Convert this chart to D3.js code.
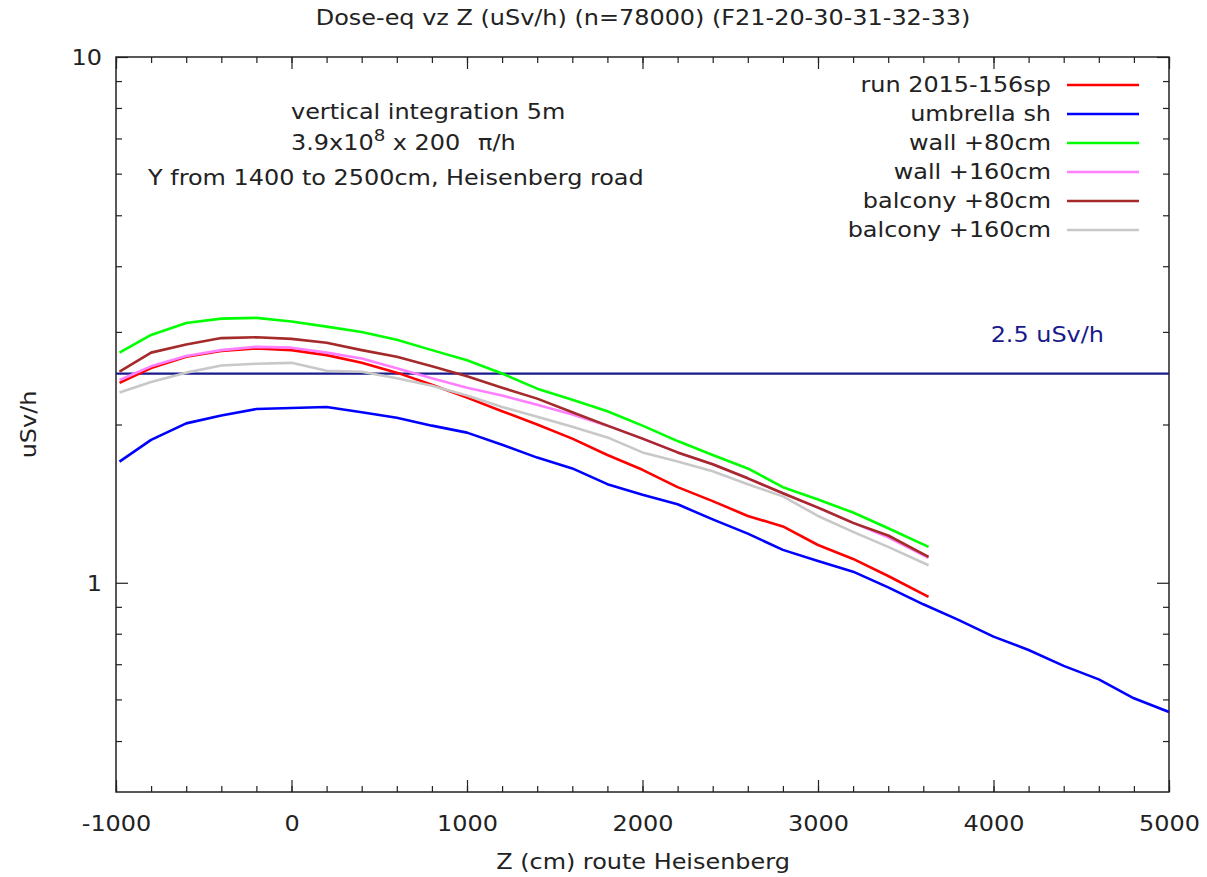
<!DOCTYPE html>
<html>
<head>
<meta charset="utf-8">
<script src="https://cdn.jsdelivr.net/npm/d3@7"></script>
<style>
  body { margin: 0; background: #fff; }
  text { font-family: "DejaVu Sans", sans-serif; fill: #222; font-size: 21px; }
</style>
</head>
<body>
<script>
// z positions (cm) of the sampled points
var zShort = [-980,-800,-600,-400,-200,0,200,400,600,800,1000,1200,1400,1600,1800,2000,2200,2400,2600,2800,3000,3200,3400,3630];
var zLong = [-980,-800,-600,-400,-200,0,200,400,600,800,1000,1200,1400,1600,1800,2000,2200,2400,2600,2800,3000,3200,3400,3600,3800,4000,4200,4400,4600,4800,5000];

var runVals  = [2.40,2.56,2.69,2.76,2.79,2.77,2.71,2.62,2.51,2.38,2.25,2.12,2.00,1.88,1.75,1.64,1.52,1.43,1.34,1.28,1.18,1.11,1.03,0.94];
var umbVals  = [1.70,1.87,2.01,2.08,2.14,2.15,2.16,2.11,2.06,1.99,1.93,1.83,1.73,1.65,1.54,1.47,1.41,1.32,1.24,1.155,1.10,1.05,0.98,0.91,0.85,0.79,0.745,0.695,0.655,0.603,0.568];
var wall80   = [2.74,2.96,3.12,3.18,3.19,3.14,3.07,3.00,2.90,2.77,2.65,2.50,2.34,2.23,2.12,1.99,1.86,1.75,1.65,1.52,1.44,1.36,1.27,1.17];
var wall160  = [2.43,2.58,2.70,2.77,2.81,2.80,2.74,2.67,2.56,2.45,2.35,2.27,2.18,2.09,1.99,1.88,1.77,1.68,1.58,1.48,1.39,1.30,1.22,1.115];
var balc80   = [2.52,2.74,2.84,2.92,2.93,2.91,2.86,2.77,2.69,2.58,2.47,2.35,2.24,2.11,1.99,1.88,1.77,1.68,1.58,1.48,1.39,1.30,1.23,1.12];
var balc160  = [2.30,2.41,2.51,2.59,2.61,2.62,2.53,2.52,2.45,2.37,2.27,2.16,2.07,1.98,1.89,1.77,1.70,1.63,1.54,1.46,1.34,1.25,1.17,1.08];

var seriesNames = ["run 2015-156sp","umbrella sh","wall +80cm","wall +160cm","balcony +80cm","balcony +160cm"];
var seriesColors = ["#ff0000","#0000ff","#00ff00","#ff80ff","#a52a2a","#c8c8c8"];
var series = [
  {z: zShort, v: runVals},
  {z: zLong,  v: umbVals},
  {z: zShort, v: wall80},
  {z: zShort, v: wall160},
  {z: zShort, v: balc80},
  {z: zShort, v: balc160}
];

var limit = 2.5;
var xMajor = [-1000,0,1000,2000,3000,4000,5000];
var xMinor = d3.range(-1000, 5001, 200);
var yMajor = [1,10];
var yMinor = [0.5,0.6,0.7,0.8,0.9,2,3,4,5,6,7,8,9];

var W = 1207, H = 877;
var pL = 116, pR = 1169, pT = 57, pB = 792;
var SX = 1.14;   // the reference font is a bit wider than DejaVu

var svg = d3.select("body").append("svg")
    .attr("width", W)
    .attr("height", H)

var x = d3.scaleLinear().domain([-1000, 5000]).range([pL, pR]);
var y = d3.scaleLog().domain([0.4, 10]).range([pB, pT]);

function label(px, py, anchor, str) {
  return svg.append("text")
    .attr("transform", "translate(" + px + "," + py + ") scale(" + SX + ",1)")
    .attr("text-anchor", anchor)
    .text(str);
}

// axes: ticks point inward, on all four sides
function tickAxis(axis, vals, size) {
  return axis.tickValues(vals).tickSize(size).tickFormat("");
}
var gAx = svg.append("g").attr("class", "axes");

var xa = gAx.append("g").attr("transform", "translate(0," + pB + ")")
  .call(d3.axisBottom(x).tickValues(xMajor).tickSize(-12).tickFormat(d3.format("d")));
xa.selectAll(".tick text").attr("y", 39).attr("dy", 0)
  .text(function(d){ return String(d) })
  .attr("transform", "scale(" + SX + ",1)");
gAx.append("g").attr("transform", "translate(0," + pB + ")")
  .call(tickAxis(d3.axisBottom(x), xMinor, -6));
gAx.append("g").attr("transform", "translate(0," + pT + ")")
  .call(tickAxis(d3.axisTop(x), xMajor, -12));
gAx.append("g").attr("transform", "translate(0," + pT + ")")
  .call(tickAxis(d3.axisTop(x), xMinor, -6));

var ya = gAx.append("g").attr("transform", "translate(" + pL + ",0)")
  .call(d3.axisLeft(y).tickValues(yMajor).tickSize(-12).tickFormat(d3.format("d")));
ya.selectAll(".tick text").attr("x", -14 / SX).attr("dy", "0.36em")
  .attr("transform", "scale(" + SX + ",1)");
gAx.append("g").attr("transform", "translate(" + pL + ",0)")
  .call(tickAxis(d3.axisLeft(y), yMinor, -6));
gAx.append("g").attr("transform", "translate(" + pR + ",0)")
  .call(tickAxis(d3.axisRight(y), yMajor, -12));
gAx.append("g").attr("transform", "translate(" + pR + ",0)")
  .call(tickAxis(d3.axisRight(y), yMinor, -6));

gAx.selectAll(".domain").remove();
gAx.selectAll(".tick line").attr("stroke", "#222").attr("stroke-width", 1.2);
gAx.selectAll(".tick text").style("font-size", "21px").attr("fill", "#222")
  .attr("font-family", "DejaVu Sans, sans-serif");

svg.append("rect")
  .attr("x", pL).attr("y", pT)
  .attr("width", pR - pL).attr("height", pB - pT)
  .attr("fill", "none").attr("stroke", "#222").attr("stroke-width", 1.5);

// horizontal reference line
svg.append("line")
  .attr("x1", x(-1000)).attr("x2", x(5000))
  .attr("y1", y(limit)).attr("y2", y(limit))
  .attr("stroke", "#1a1a8c").attr("stroke-width", 2.2);
label(1104, 342, "end", "2.5 uSv/h").style("fill", "#1a1a8c");

var line = d3.line()
  .x(function(d){ return x(d[0]) })
  .y(function(d){ return y(d[1]) });

svg.append("clipPath").attr("id", "clip")
  .append("rect").attr("x", pL).attr("y", pT).attr("width", pR - pL).attr("height", pB - pT);

series.forEach(function(s, i) {
  var pts = s.z.map(function(z, j){ return [z, s.v[j]] });
  svg.append("path")
    .attr("clip-path", "url(#clip)")
    .attr("d", line(pts))
    .attr("fill", "none")
    .attr("stroke", seriesColors[i])
    .attr("stroke-width", 2.6)
    .attr("stroke-linejoin", "round");
});

// legend
seriesNames.forEach(function(n, i) {
  var ly = 85 + i * 29;
  label(1051, ly + 7, "end", n);
  svg.append("line")
    .attr("x1", 1067).attr("x2", 1139)
    .attr("y1", ly).attr("y2", ly)
    .attr("stroke", seriesColors[i]).attr("stroke-width", 2.6);
});

// annotation
label(291, 119, "start", "vertical integration 5m");
var t2 = label(291, 150, "start", "");
t2.append("tspan").text("3.9x10");
t2.append("tspan").attr("dy", -9).style("font-size", "16px").text("8");
t2.append("tspan").attr("dy", 9).text(" x 200");
label(478, 150, "start", "\u03c0/h");
label(148, 185, "start", "Y from 1400 to 2500cm, Heisenberg road");

// titles
label(643, 25, "middle", "Dose-eq vz Z (uSv/h) (n=78000) (F21-20-30-31-32-33)");
label(643, 869, "middle", "Z (cm) route Heisenberg");
svg.append("text")
  .attr("transform", "translate(36," + ((pT + pB) / 2) + ") rotate(-90) scale(" + SX + ",1)")
  .attr("text-anchor", "middle")
  .text("uSv/h");
</script>
</body>
</html>
